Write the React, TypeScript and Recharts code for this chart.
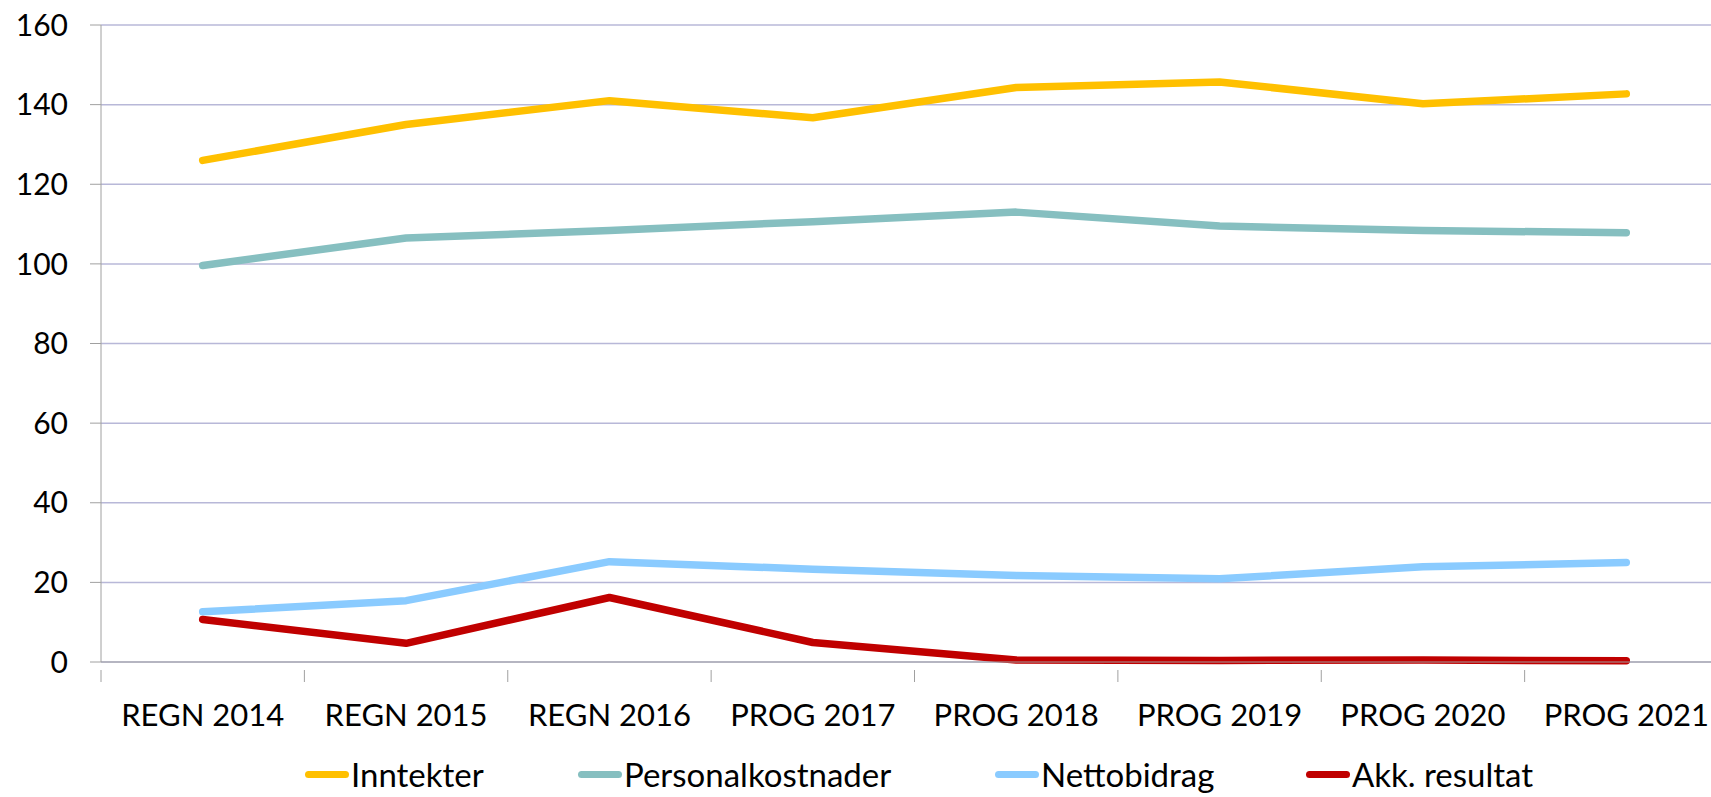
import React from "react";
import { LineChart, Line, XAxis, YAxis, CartesianGrid, Legend } from "recharts";

const categories = ["REGN 2014", "REGN 2015", "REGN 2016", "PROG 2017", "PROG 2018", "PROG 2019", "PROG 2020", "PROG 2021"];
const inntekter = [126, 135, 141, 136.7, 144.3, 145.7, 140.2, 142.7];
const personalkostnader = [99.6, 106.5, 108.4, 110.6, 113, 109.5, 108.4, 107.8];
const nettobidrag = [12.6, 15.4, 25.2, 23.3, 21.7, 20.9, 23.9, 25];
const akkResultat = [10.7, 4.7, 16.2, 4.9, 0.5, 0.4, 0.5, 0.3];
const yTicks = [0, 20, 40, 60, 80, 100, 120, 140, 160];

const seriesDefs = [
  { key: "Inntekter", color: "#FFC000", values: inntekter },
  { key: "Personalkostnader", color: "#86BFC0", values: personalkostnader },
  { key: "Nettobidrag", color: "#8ACBFF", values: nettobidrag },
  { key: "Akk. resultat", color: "#C00000", values: akkResultat },
];
const legendLefts = [305, 578, 995, 1306];

const data = categories.map((c, i) => {
  const row: Record<string, any> = { name: c };
  seriesDefs.forEach((s) => (row[s.key] = s.values[i]));
  return row;
});

const FONT = "Lato, 'Open Sans', sans-serif";
const BAND = (1728 - 101) / categories.length;

const XTick = (props: any) => {
  const { x, y, payload, index } = props;
  return (
    <g>
      <line x1={x - BAND / 2} x2={x - BAND / 2} y1={y} y2={y + 12} stroke="#A0A0A0" strokeWidth={1} />
      {index === categories.length - 1 && (
        <line x1={x + BAND / 2} x2={x + BAND / 2} y1={y} y2={y + 12} stroke="#A0A0A0" strokeWidth={1} />
      )}
      <text x={x} y={y + 56} textAnchor="middle" fontFamily={FONT} fontSize={31} fill="#000">
        {payload.value}
      </text>
    </g>
  );
};

const LegendContent = () => (
  <div style={{ position: "relative", height: 55, fontFamily: FONT, fontSize: 33, lineHeight: "36px", color: "#000" }}>
    {seriesDefs.map((s, i) => (
      <div key={s.key} style={{ position: "absolute", left: legendLefts[i], top: 14, display: "flex", alignItems: "center", whiteSpace: "nowrap" }}>
        <div style={{ width: 44, height: 7, borderRadius: 4, background: s.color, marginRight: 2 }} />
        <span>{s.key}</span>
      </div>
    ))}
  </div>
);

export default function App() {
  return (
    <div style={{ position: "fixed", left: 0, top: 0, width: 1711, height: 797, overflow: "hidden", background: "#fff" }}>
      <LineChart width={1740} height={797} data={data} margin={{ top: 25, right: 12, left: 0, bottom: 0 }}>
        <CartesianGrid vertical={false} stroke="#B8B8D8" strokeWidth={1.5} />
        <XAxis
          dataKey="name"
          height={80}
          interval={0}
          padding={{ left: BAND / 2, right: BAND / 2 }}
          axisLine={{ stroke: "#A0A0A0" }}
          tickLine={false}
          tick={<XTick />}
        />
        <YAxis
          domain={[0, 160]}
          ticks={yTicks}
          width={101}
          tickSize={11}
          tickMargin={22}
          axisLine={{ stroke: "#A0A0A0" }}
          tickLine={{ stroke: "#A0A0A0" }}
          tick={{ fontFamily: FONT, fontSize: 30, fill: "#000" }}
        />
        <Legend verticalAlign="bottom" height={55} content={<LegendContent />} wrapperStyle={{ left: 0, width: 1711 }} />
        {seriesDefs.map((s) => (
          <Line
            key={s.key}
            dataKey={s.key}
            stroke={s.color}
            strokeWidth={7.5}
            strokeLinecap="round"
            strokeLinejoin="round"
            dot={false}
            activeDot={false}
            isAnimationActive={false}
          />
        ))}
      </LineChart>
    </div>
  );
}
